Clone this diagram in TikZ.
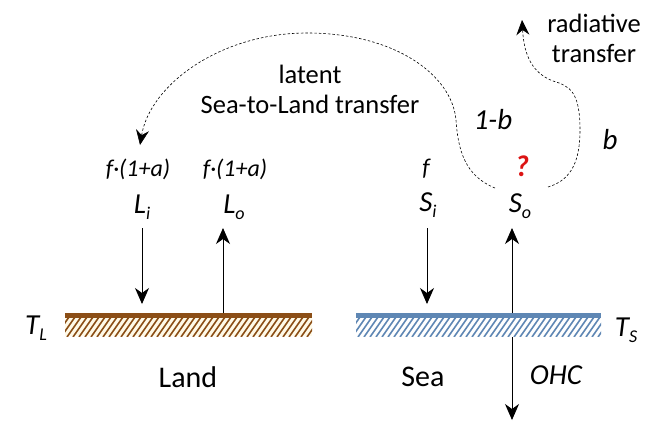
\documentclass[tikz,border=0pt]{standalone}
\usepackage{fontspec}
\setmainfont{Carlito}
\usetikzlibrary{arrows.meta}
\definecolor{landbrown}{RGB}{139,78,22}
\definecolor{landcream}{RGB}{255,250,232}
\definecolor{seablue}{RGB}{95,135,180}
\definecolor{quered}{RGB}{220,20,20}
\newcommand{\subl}[2]{#1\raisebox{-6pt}{\fontsize{18}{18}\selectfont #2}}
\begin{document}
\begin{tikzpicture}[x=1pt,y=-1pt,
  flux/.style={line width=0.9pt,-{Stealth[length=16pt,width=14pt,inset=5pt]}},
  dashcurve/.style={line width=0.6pt,dash pattern=on 2.5pt off 2pt},
  dasharrow/.style={dashcurve,-{Stealth[length=15pt,width=13pt,inset=5pt]}},
  lbl/.style={font=\fontsize{30}{32}\selectfont},
  txt/.style={font=\fontsize{26.5}{30}\selectfont,align=center},
  var/.style={font=\fontsize{29}{32}\selectfont\itshape},
  coef/.style={font=\fontsize{24}{26}\selectfont\itshape},
  inner sep=0pt]
\useasboundingbox (0,0) rectangle (663,429);
% Land bar
\fill[landcream] (65,318) rectangle (312,336);
\begin{scope}
  \clip (65,318) rectangle (312,336);
  \foreach \x in {0,6,...,270} \draw[landbrown,line width=1.6pt] (\x+55,337) -- (\x+69,317);
\end{scope}
\fill[landbrown] (65,313) rectangle (312,318);
\node (land) [inner sep=0pt,minimum width=247pt,minimum height=24pt] at (188.5,325) {};
% Sea bar
\fill[white] (356,318) rectangle (601,336);
\begin{scope}
  \clip (356,318) rectangle (601,336);
  \foreach \x in {0,6,...,270} \draw[seablue,line width=1.6pt] (\x+346,337) -- (\x+360,317);
\end{scope}
\fill[seablue] (356,313) rectangle (601,318);
\node (sea) [inner sep=0pt,minimum width=245pt,minimum height=24pt] at (478.5,325) {};
% Temperatures
\node[var] (tl) at (36,328) {\subl{T}{L}};
\node[var] (ts) at (626,330) {\subl{T}{S}};
% Names
\node[lbl] (landlbl) at (188,377) {Land};
\node[lbl] (sealbl) at (423,377) {Sea};
\node[var] (ohc) at (556,375) {OHC};
% Flux labels
\node[var] (li) at (142,207) {\subl{L}{i}};
\node[var] (lo) at (234,207) {\subl{L}{o}};
\node[var] (si) at (428,205) {\subl{S}{i}};
\node[var] (so) at (520,206) {\subl{S}{o}};
\node[coef] (cli) at (138,169) {f·(1+a)};
\node[coef] (clo) at (235,169) {f·(1+a)};
\node[coef] (csi) at (426,169) {f};
\node[font=\fontsize{30}{32}\selectfont\bfseries\itshape,text=quered] (q) at (522,166) {?};
% Vertical arrows
\coordinate (liTop) at (142,228);
\coordinate (liBot) at (142,304);
\coordinate (loBot) at (223,313);
\coordinate (loTop) at (223,228);
\coordinate (siTop) at (427,228);
\coordinate (siBot) at (427,304);
\coordinate (soBot) at (512,313);
\coordinate (soTop) at (512,228);
\coordinate (ohcTop) at (512,337);
\coordinate (ohcBot) at (512,420);
\draw[flux] (liTop) -- (liBot);
\draw[flux] (loBot) -- (loTop);
\draw[flux] (siTop) -- (siBot);
\draw[flux] (soBot) -- (soTop);
\draw[flux] (ohcTop) -- (ohcBot);
% Latent transfer
\node[txt] (latent) at (310,89) {latent\\Sea-to-Land transfer};
\node[var] (omb) at (493,120) {1-b};
\node[var] (bb) at (610,140) {b};
\coordinate (latS) at (495,188);
\coordinate (latE) at (140,145);
\draw[dasharrow] (latS) .. controls (465,176) and (458,150) .. (456,120)
  .. controls (452,75) and (395,33) .. (307,33)
  .. controls (220,33) and (150,85) .. (latE);
% Radiative transfer
\node[txt] (rad) at (594,38) {radiative\\transfer};
\coordinate (radS) at (548,187);
\coordinate (radE) at (522,20);
\draw[dasharrow] (radS) .. controls (572,180) and (580,160) .. (580,130)
  .. controls (580,92) and (570,86) .. (553,81)
  .. controls (532,73) and (524,55) .. (radE);
\end{tikzpicture}
\end{document}
